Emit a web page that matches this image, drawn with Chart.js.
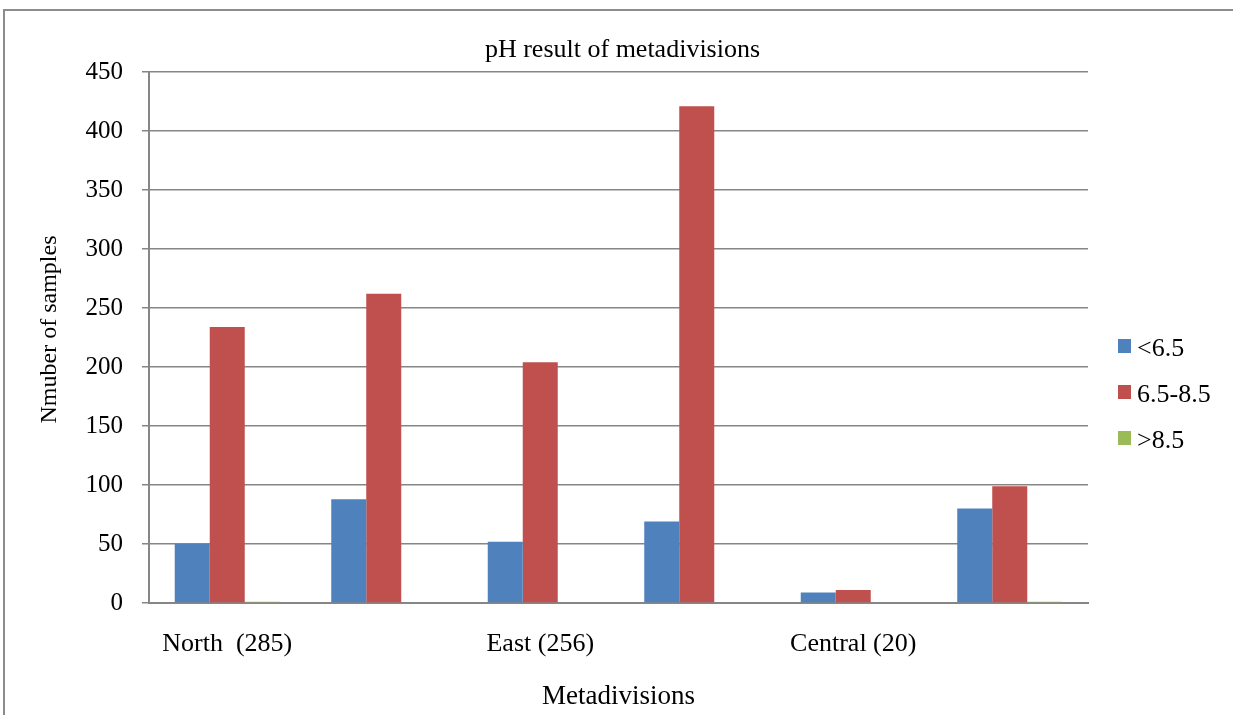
<!DOCTYPE html>
<html>
<head>
<meta charset="utf-8">
<title>pH result of metadivisions</title>
<script src="https://cdn.jsdelivr.net/npm/chart.js@4.4.1/dist/chart.umd.min.js"></script>
<style>
  html, body { margin: 0; padding: 0; background: #ffffff; }
  #wrap { position: relative; width: 1233px; height: 715px; }
</style>
</head>
<body>
<div id="wrap"><canvas id="chart"></canvas></div>
<script>
// Sample counts per metadivision, grouped by pH class
const categories = ['North  (285)', '', 'East (256)', '', 'Central (20)', ''];
const seriesNames = ['<6.5', '6.5-8.5', '>8.5'];
const belowSix5 = [50, 88, 52, 69, 9, 80];
const six5ToEight5 = [234, 262, 204, 421, 11, 99];
const aboveEight5 = [1, 0, 0, 0, 0, 1];
const yTicks = [0, 50, 100, 150, 200, 250, 300, 350, 400, 450];

const chartTitle = 'pH result of metadivisions';
const xTitle = 'Metadivisions';
const yTitle = 'Nmuber of samples';

const colors = ['#4F81BD', '#C0504D', '#9BBB59'];
const serif = "'Liberation Serif', 'Times New Roman', serif";
const gridGrey = '#868686';

// Outer frame, chart title, y-axis title and the right-hand legend
const decorations = {
  id: 'decorations',
  beforeDraw(chart) {
    const ctx = chart.ctx;
    ctx.save();
    ctx.fillStyle = '#ffffff';
    ctx.fillRect(0, 0, chart.width, chart.height);
    ctx.strokeStyle = '#8c8c8c';
    ctx.lineWidth = 2;
    ctx.strokeRect(4, 10, chart.width + 20, chart.height + 20);
    ctx.restore();
  },
  afterDraw(chart) {
    const ctx = chart.ctx;
    const area = chart.chartArea;
    ctx.save();
    ctx.fillStyle = '#000000';
    ctx.font = '26px ' + serif;
    ctx.textAlign = 'center';
    ctx.textBaseline = 'alphabetic';
    ctx.fillText(chartTitle, (area.left + area.right) / 2 + 4, 57);

    // y-axis title, rotated
    ctx.save();
    ctx.translate(49.5, (area.top + area.bottom) / 2 - 8);
    ctx.rotate(-Math.PI / 2);
    ctx.font = '24px ' + serif;
    ctx.textBaseline = 'middle';
    ctx.fillText(yTitle, 0, 0);
    ctx.restore();

    ctx.textAlign = 'left';
    ctx.font = '26px ' + serif;
    chart.data.datasets.forEach((ds, i) => {
      const baseY = 356 + i * 46;
      const x = area.right + 30;
      ctx.fillStyle = ds.backgroundColor;
      ctx.fillRect(x, baseY - 17, 13, 14);
      ctx.fillStyle = '#000000';
      ctx.fillText(ds.label, x + 19, baseY);
    });
    ctx.restore();
  }
};

new Chart(document.getElementById('chart'), {
  type: 'bar',
  data: {
    labels: categories,
    datasets: [
      { label: seriesNames[0], data: belowSix5, backgroundColor: colors[0] },
      { label: seriesNames[1], data: six5ToEight5, backgroundColor: colors[1] },
      { label: seriesNames[2], data: aboveEight5, backgroundColor: colors[2] }
    ]
  },
  options: {
    responsive: true,
    maintainAspectRatio: false,
    animation: false,
    devicePixelRatio: 1,
    layout: { padding: { top: 72, right: 145, bottom: 0, left: 0 } },
    datasets: {
      bar: { categoryPercentage: 0.671, barPercentage: 1.0, borderWidth: 0 }
    },
    plugins: {
      legend: { display: false },
      title: { display: false },
      tooltip: { enabled: false }
    },
    scales: {
      x: {
        grid: { display: false, drawTicks: false },
        border: { display: true, color: '#868686', width: 2 },
        ticks: {
          color: '#000000',
          font: { family: serif, size: 26 },
          padding: 26,
          maxRotation: 0,
          autoSkip: false
        },
        title: {
          display: true,
          text: xTitle,
          color: '#000000',
          font: { family: serif, size: 27 },
          padding: { top: 0, bottom: 2 }
        },
        afterFit(scale) { scale.height = 112; }
      },
      y: {
        min: 0,
        max: 450,
        afterBuildTicks(scale) { scale.ticks = yTicks.map(v => ({ value: v })); },
        grid: { color: gridGrey, lineWidth: 1.5, drawTicks: true, tickLength: 7 },
        border: { display: true, color: '#868686', width: 2 },
        ticks: {
          color: '#000000',
          font: { family: serif, size: 25 },
          padding: 19
        },
        title: { display: false },
        afterFit(scale) { scale.width = 149; }
      }
    }
  },
  plugins: [decorations]
});
</script>
</body>
</html>
